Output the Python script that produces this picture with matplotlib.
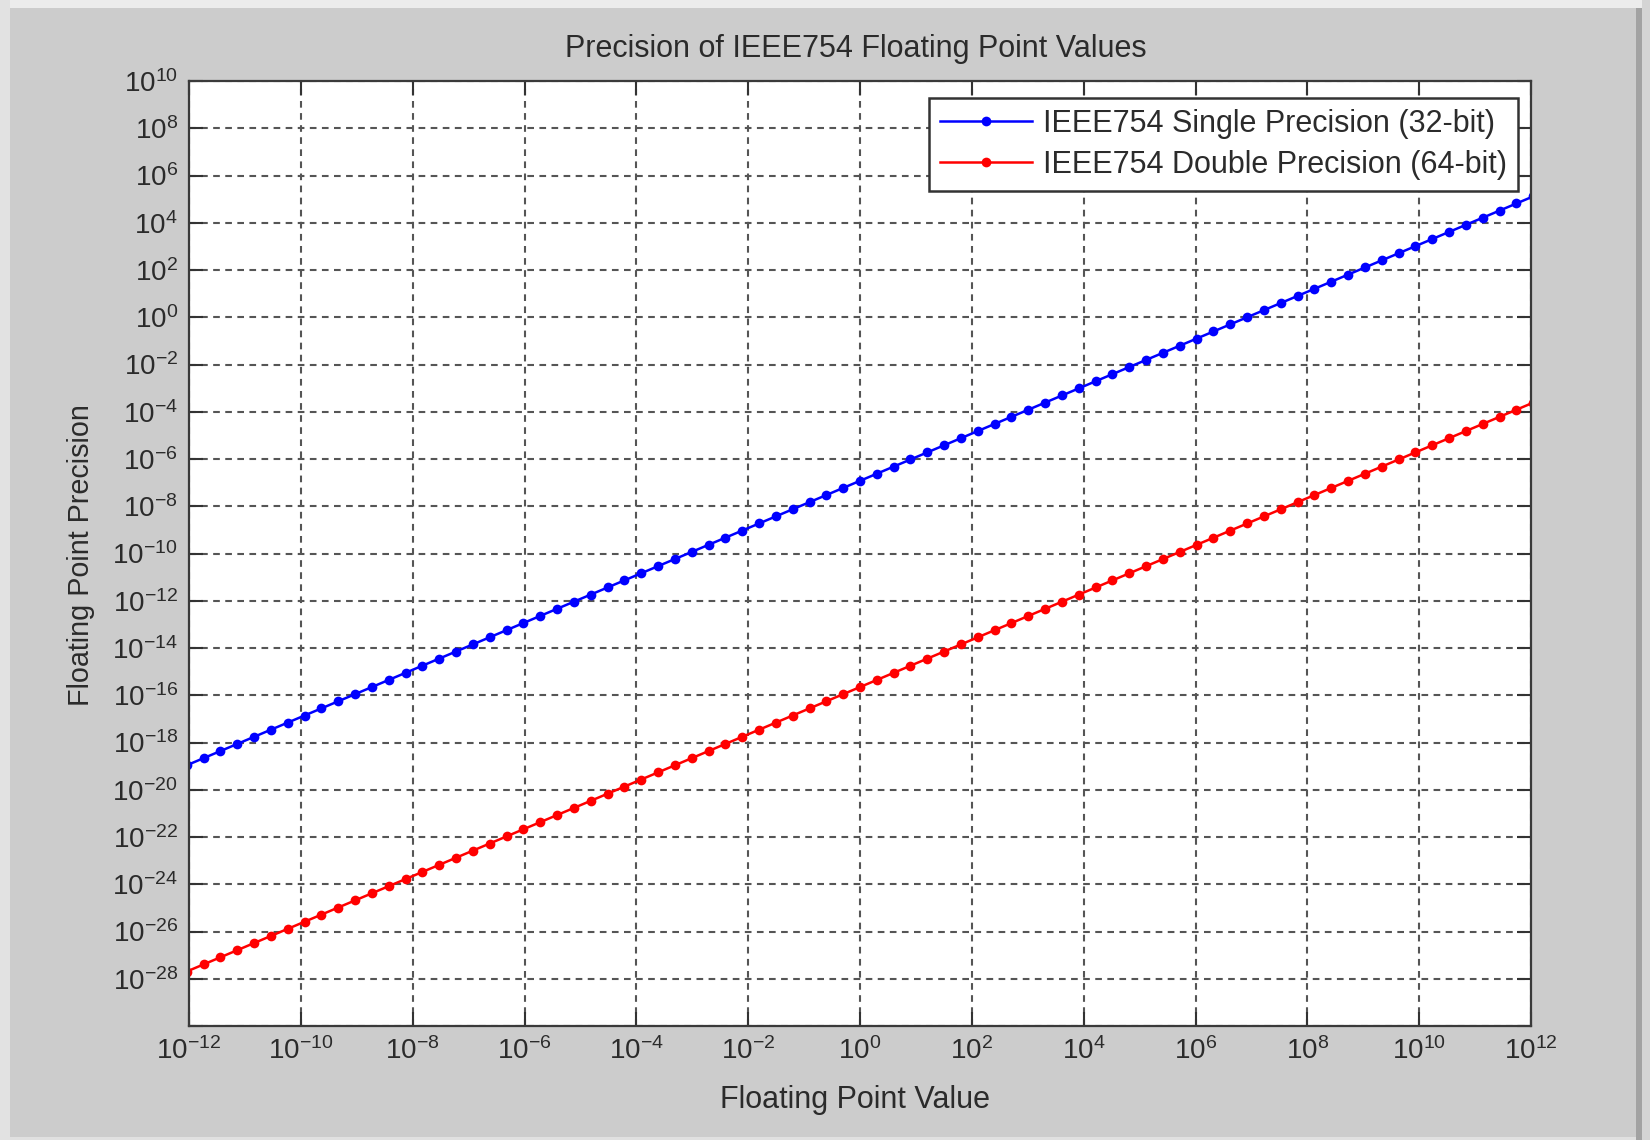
import numpy as np
import matplotlib
matplotlib.use("Agg")
import matplotlib.pyplot as plt
from matplotlib.ticker import FixedLocator, FixedFormatter, NullLocator
from matplotlib.patches import Rectangle

# ---------------- data (powers of two) ----------------
x_exp2 = [-40, -39, -38, -37, -36, -35, -34, -33, -32, -31, -30, -29, -28, -27,
          -26, -25, -24, -23, -22, -21, -20, -19, -18, -17, -16, -15, -14, -13,
          -12, -11, -10, -9, -8, -7, -6, -5, -4, -3, -2, -1, 0, 1, 2, 3, 4, 5,
          6, 7, 8, 9, 10, 11, 12, 13, 14, 15, 16, 17, 18, 19, 20, 21, 22, 23,
          24, 25, 26, 27, 28, 29, 30, 31, 32, 33, 34, 35, 36, 37, 38, 39, 40]
single_exp2 = [-63, -62, -61, -60, -59, -58, -57, -56, -55, -54, -53, -52, -51,
               -50, -49, -48, -47, -46, -45, -44, -43, -42, -41, -40, -39, -38,
               -37, -36, -35, -34, -33, -32, -31, -30, -29, -28, -27, -26, -25,
               -24, -23, -22, -21, -20, -19, -18, -17, -16, -15, -14, -13, -12,
               -11, -10, -9, -8, -7, -6, -5, -4, -3, -2, -1, 0, 1, 2, 3, 4, 5,
               6, 7, 8, 9, 10, 11, 12, 13, 14, 15, 16, 17]
double_exp2 = [-92, -91, -90, -89, -88, -87, -86, -85, -84, -83, -82, -81, -80,
               -79, -78, -77, -76, -75, -74, -73, -72, -71, -70, -69, -68, -67,
               -66, -65, -64, -63, -62, -61, -60, -59, -58, -57, -56, -55, -54,
               -53, -52, -51, -50, -49, -48, -47, -46, -45, -44, -43, -42, -41,
               -40, -39, -38, -37, -36, -35, -34, -33, -32, -31, -30, -29, -28,
               -27, -26, -25, -24, -23, -22, -21, -20, -19, -18, -17, -16, -15,
               -14, -13, -12]
series_labels = ["IEEE754 Single Precision (32-bit)",
                 "IEEE754 Double Precision (64-bit)"]
xtick_exp = [-12, -10, -8, -6, -4, -2, 0, 2, 4, 6, 8, 10, 12]
ytick_exp = [-30, -28, -26, -24, -22, -20, -18, -16, -14, -12, -10, -8, -6,
             -4, -2, 0, 2, 4, 6, 8, 10]
title_text = "Precision of IEEE754 Floating Point Values"
xlabel_text = "Floating Point Value"
ylabel_text = "Floating Point Precision"

# ---------------- style ----------------
plt.rcParams['font.family'] = ['Liberation Sans', 'DejaVu Sans']
plt.rcParams['mathtext.fontset'] = 'custom'
plt.rcParams['mathtext.rm'] = 'Liberation Sans'
plt.rcParams['mathtext.it'] = 'Liberation Sans:italic'
plt.rcParams['mathtext.bf'] = 'Liberation Sans:bold'
TXT = '#2b2b2b'

W, H = 1650, 1140
fig = plt.figure(figsize=(W / 100, H / 100), dpi=100, facecolor='#cccccc')

# screenshot-like border
def frect(x0, y0, x1, y1, color):
    fig.patches.append(Rectangle((x0 / W, 1 - y1 / H), (x1 - x0) / W, (y1 - y0) / H,
                                 transform=fig.transFigure, color=color, zorder=0,
                                 linewidth=0))
frect(0, 0, W, 8, '#ececec')
frect(0, 0, 10, H, '#e2e2e2')
frect(1636, 8, 1642, H, '#a2a2a2')
frect(1642, 0, W, H, '#d4d4d4')
frect(10, 1137, 1636, H, '#e0e0e0')

left, right, top, bottom = 189, 1531, 81, 1026
ax = fig.add_axes([left / W, 1 - bottom / H, (right - left) / W, (bottom - top) / H])
ax.set_facecolor('white')

x = 2.0 ** np.array(x_exp2, dtype=float)
y_single = 2.0 ** np.array(single_exp2, dtype=float)
y_double = 2.0 ** np.array(double_exp2, dtype=float)

ax.plot(x, y_single, color='#0000ff', lw=1.8, marker='o', ms=7, mew=0,
        label=series_labels[0], zorder=3)
ax.plot(x, y_double, color='#ff0000', lw=1.8, marker='o', ms=7, mew=0,
        label=series_labels[1], zorder=3)

ax.set_xscale('log')
ax.set_yscale('log')
ax.set_xlim(10.0 ** xtick_exp[0], 10.0 ** xtick_exp[-1])
ax.set_ylim(10.0 ** ytick_exp[0], 10.0 ** ytick_exp[-1])

ax.xaxis.set_major_locator(FixedLocator([10.0 ** e for e in xtick_exp]))
ax.xaxis.set_major_formatter(FixedFormatter([r'$\mathregular{10^{%d}}$' % e for e in xtick_exp]))
ax.yaxis.set_major_locator(FixedLocator([10.0 ** e for e in ytick_exp]))
ax.yaxis.set_major_formatter(FixedFormatter(
    ['' if e == ytick_exp[0] else r'$\mathregular{10^{%d}}$' % e for e in ytick_exp]))
ax.xaxis.set_minor_locator(NullLocator())
ax.yaxis.set_minor_locator(NullLocator())

ax.tick_params(which='major', direction='in', length=10, width=1.5, colors='#333333',
               labelcolor=TXT, labelsize=20, pad=8,
               top=True, right=True)
ax.grid(True, which='major', color='#555555', lw=1.5, linestyle=(0, (3.2, 2.6)), zorder=1)
ax.set_axisbelow(True)
for s in ax.spines.values():
    s.set_color('#3a3a3a')
    s.set_linewidth(1.6)
    s.set_zorder(4)

leg = ax.legend(loc='upper right', bbox_to_anchor=(0.9903, 0.982), borderaxespad=0,
                fontsize=22, frameon=True, fancybox=False, framealpha=1,
                edgecolor='#333333', handlelength=3.0, handletextpad=0.36,
                labelspacing=0.36, borderpad=0.36, numpoints=1)
leg.get_frame().set_linewidth(1.8)
for t in leg.get_texts():
    t.set_color(TXT)

fig.text(856 / W, 1 - 49.5 / H, title_text, ha='center', va='center', fontsize=22, color=TXT)
fig.text(855 / W, 1 - 1100 / H, xlabel_text, ha='center', va='center', fontsize=22, color=TXT)
fig.text(81 / W, 1 - 555 / H, ylabel_text, ha='center', va='center', rotation=90,
         fontsize=20.7, color=TXT)

fig.savefig('out.png', dpi=100, facecolor=fig.get_facecolor())
